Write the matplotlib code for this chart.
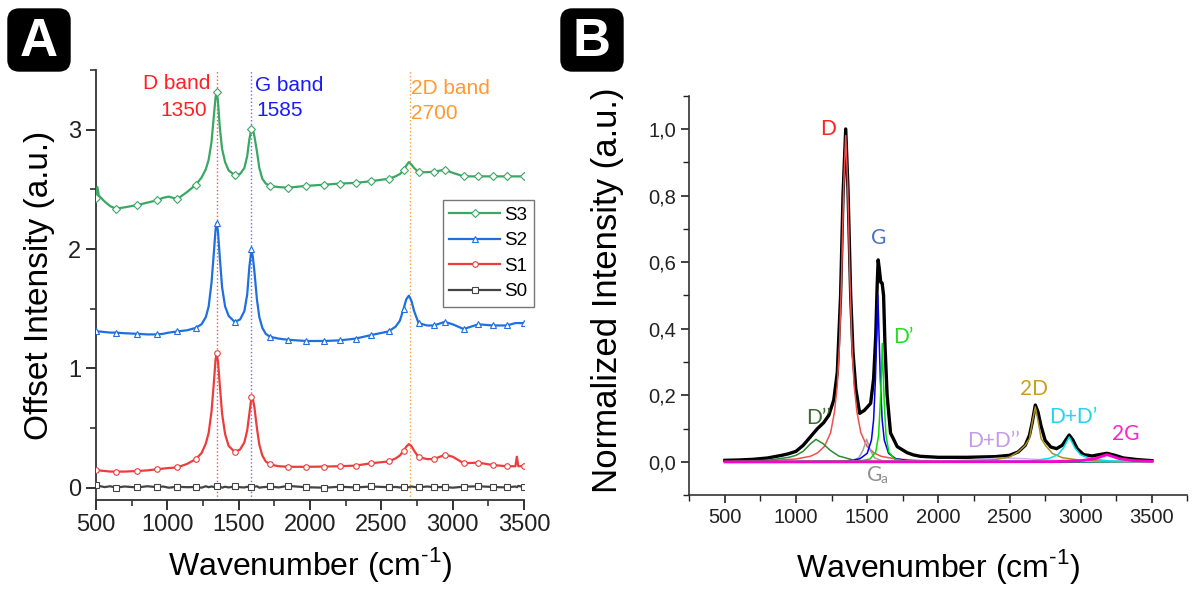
import numpy as np
import matplotlib
matplotlib.use("Agg")
import matplotlib.pyplot as plt
from matplotlib.patches import FancyBboxPatch
from matplotlib.ticker import MultipleLocator, FuncFormatter

plt.rcParams['font.family'] = ['Liberation Sans', 'DejaVu Sans']

# ---- panel A : raman spectra, offset ----
WN_A = [500, 510, 520, 560, 600, 640, 700, 790, 860, 930, 970, 1010, 1070, 1140, 1200,
        1240, 1270, 1290, 1310, 1325, 1338, 1346, 1355, 1368, 1384, 1405, 1430, 1472, 1510,
        1540, 1560, 1575, 1590, 1600, 1610, 1628, 1645, 1666, 1690, 1720, 1780, 1846, 1970,
        2100, 2210, 2320, 2430, 2551, 2600, 2630, 2656, 2675, 2693, 2710, 2730, 2761, 2820,
        2869, 2944, 3000, 3077, 3180, 3280, 3380, 3440, 3450, 3460, 3500]

S3 = [2.43, 2.52, 2.45, 2.40, 2.36, 2.34, 2.35, 2.37, 2.39, 2.41, 2.43, 2.44, 2.42, 2.48, 2.54,
      2.60, 2.67, 2.75, 2.90, 3.10, 3.27, 3.32, 3.24, 3.02, 2.84, 2.73, 2.66, 2.62, 2.63,
      2.68, 2.78, 2.92, 3.01, 3.00, 2.95, 2.82, 2.68, 2.59, 2.55, 2.53, 2.52, 2.515, 2.53,
      2.54, 2.55, 2.555, 2.57, 2.59, 2.61, 2.63, 2.66, 2.70, 2.73, 2.71, 2.68, 2.645, 2.645,
      2.65, 2.665, 2.64, 2.61, 2.61, 2.61, 2.61, 2.61, 2.61, 2.61, 2.61]
S2 = [1.31, 1.31, 1.31, 1.305, 1.30, 1.30, 1.295, 1.29, 1.285, 1.285, 1.29, 1.30, 1.31, 1.32, 1.34,
      1.37, 1.43, 1.52, 1.72, 1.95, 2.16, 2.22, 2.15, 1.93, 1.68, 1.52, 1.44, 1.39, 1.41,
      1.48, 1.62, 1.85, 2.00, 1.93, 1.82, 1.58, 1.43, 1.34, 1.29, 1.265, 1.25, 1.24, 1.23,
      1.23, 1.235, 1.25, 1.28, 1.31, 1.35, 1.40, 1.50, 1.58, 1.61, 1.57, 1.48, 1.38, 1.36,
      1.36, 1.39, 1.37, 1.33, 1.37, 1.36, 1.36, 1.38, 1.38, 1.38, 1.38]
S1 = [0.15, 0.15, 0.145, 0.14, 0.135, 0.135, 0.135, 0.14, 0.145, 0.155, 0.16, 0.165, 0.17, 0.20, 0.24,
      0.29, 0.37, 0.46, 0.64, 0.86, 1.07, 1.13, 1.06, 0.86, 0.62, 0.45, 0.35, 0.30, 0.32,
      0.38, 0.48, 0.62, 0.76, 0.74, 0.68, 0.50, 0.36, 0.27, 0.22, 0.195, 0.18, 0.175, 0.175,
      0.177, 0.18, 0.185, 0.205, 0.22, 0.245, 0.27, 0.31, 0.345, 0.365, 0.35, 0.31, 0.255, 0.24,
      0.24, 0.275, 0.26, 0.205, 0.21, 0.19, 0.18, 0.18, 0.26, 0.18, 0.18]
S0 = [0.02, 0.01, 0.015, 0.005, 0.012, 0.0, 0.01, 0.002, 0.012, 0.004, 0.01, 0.0, 0.008, 0.004, 0.006,
      0.0, 0.012, 0.004, 0.01, 0.006, 0.014, 0.015, 0.003, 0.01, 0.0, 0.008, 0.002, 0.01, 0.004,
      0.002, 0.008, 0.0, 0.006, 0.002, 0.008, 0.012, 0.0, 0.004, 0.006, 0.01, 0.002, 0.015, 0.004,
      0.0, 0.008, 0.002, 0.01, 0.004, 0.006, 0.002, 0.008, 0.0, 0.004, 0.01, 0.006, 0.002, 0.01,
      0.004, 0.006, 0.0, 0.008, 0.012, 0.006, 0.002, 0.01, 0.004, 0.015, 0.005]
MARK_WN = [500, 640, 790, 930, 1070, 1200, 1346, 1472, 1590, 1720, 1846, 1970, 2100, 2210,
           2320, 2430, 2551, 2656, 2761, 2869, 2944, 3077, 3180, 3280, 3380, 3500]

SERIES_A = ["S3", "S2", "S1", "S0"]
BANDS = [1350, 1585, 2700]

# ---- panel B : fitted spectrum ----
TOT_X = [500, 600, 700, 800, 900, 950, 1000, 1050, 1100, 1150, 1194, 1230, 1265, 1290, 1313,
         1330, 1349, 1365, 1384, 1400, 1420, 1447, 1480, 1524, 1545, 1560, 1570, 1577, 1585,
         1595, 1605, 1615, 1625, 1640, 1664, 1711, 1780, 1826, 1874, 2000, 2200, 2400, 2500,
         2560, 2610, 2640, 2660, 2681, 2700, 2720, 2750, 2790, 2830, 2870, 2895, 2919, 2945,
         2975, 3020, 3080, 3130, 3184, 3240, 3300, 3400, 3500]
TOT_Y = [0.005, 0.006, 0.008, 0.012, 0.02, 0.025, 0.032, 0.05, 0.075, 0.1, 0.118, 0.14, 0.186, 0.27, 0.5,
         0.8, 1.0, 0.82, 0.5, 0.33, 0.22, 0.146, 0.155, 0.176, 0.25, 0.38, 0.53, 0.607, 0.58,
         0.54, 0.537, 0.5, 0.35, 0.2, 0.087, 0.046, 0.028, 0.021, 0.017, 0.014, 0.014, 0.016, 0.02,
         0.03, 0.05, 0.08, 0.12, 0.171, 0.15, 0.11, 0.065, 0.045, 0.04, 0.05, 0.066, 0.081, 0.066,
         0.04, 0.022, 0.018, 0.022, 0.026, 0.02, 0.012, 0.007, 0.004]

D_X = [500, 800, 1000, 1100, 1150, 1200, 1243, 1270, 1290, 1305, 1320, 1335, 1349, 1363, 1378,
       1393, 1408, 1428, 1455, 1498, 1548, 1598, 1700, 1900, 2500, 3500]
D_Y = [0.0015, 0.0035, 0.009, 0.017, 0.027, 0.047, 0.088, 0.15, 0.23, 0.35, 0.56, 0.83, 0.98, 0.83, 0.56,
       0.35, 0.23, 0.15, 0.088, 0.047, 0.027, 0.017, 0.009, 0.0035, 0.0008, 0.0003]
D2_X = [500, 800, 950, 1000, 1050, 1100, 1140, 1190, 1240, 1300, 1400, 1500, 1700, 3500]
D2_Y = [0.001, 0.005, 0.014, 0.02, 0.032, 0.054, 0.068, 0.055, 0.035, 0.018, 0.006, 0.002, 0.0005, 0.0]
GA_X = [500, 1380, 1440, 1470, 1496, 1522, 1552, 1610, 3500]
GA_Y = [0.0, 0.003, 0.012, 0.035, 0.068, 0.035, 0.012, 0.003, 0.0]
G_X = [500, 1300, 1400, 1450, 1500, 1530, 1545, 1558, 1566, 1575, 1584, 1592, 1605, 1620, 1650,
       1700, 1800, 2000, 3500]
G_Y = [0.0005, 0.002, 0.005, 0.01, 0.026, 0.066, 0.127, 0.25, 0.37, 0.5, 0.37, 0.25, 0.127, 0.066, 0.026,
       0.01, 0.003, 0.001, 0.0]
D1_X = [500, 1450, 1520, 1560, 1580, 1592, 1600, 1606, 1612, 1620, 1632, 1652, 1692, 1760, 3500]
D1_Y = [0.0, 0.003, 0.009, 0.03, 0.08, 0.178, 0.27, 0.356, 0.27, 0.178, 0.08, 0.03, 0.009, 0.003, 0.0]
DD2_X = [500, 1800, 2100, 2300, 2450, 2600, 2750, 3000, 3500]
DD2_Y = [0.0, 0.001, 0.004, 0.008, 0.012, 0.01, 0.006, 0.002, 0.0]
TWO_D_X = [500, 2200, 2400, 2500, 2560, 2610, 2640, 2660, 2681, 2702, 2722, 2752, 2800, 2870, 3000,
           3200, 3500]
TWO_D_Y = [0.0005, 0.003, 0.007, 0.015, 0.03, 0.05, 0.07, 0.12, 0.165, 0.12, 0.07, 0.05, 0.026, 0.013, 0.005,
           0.002, 0.001]
DD1_X = [500, 2650, 2780, 2840, 2880, 2900, 2919, 2938, 2958, 2998, 3060, 3200, 3500]
DD1_Y = [0.0, 0.003, 0.011, 0.022, 0.043, 0.06, 0.075, 0.06, 0.043, 0.022, 0.011, 0.003, 0.001]
TWO_G_X = [500, 2800, 3000, 3100, 3150, 3184, 3220, 3270, 3370, 3500]
TWO_G_Y = [0.0, 0.001, 0.004, 0.01, 0.017, 0.022, 0.017, 0.01, 0.004, 0.002]

XLABEL = "Wavenumber (cm$^{\\mathregular{\u2010}\\mathregular{1}}$)"

fig = plt.figure(figsize=(11.95, 5.94), dpi=100)

# ---------------- A ----------------
axA = fig.add_axes([0.0803, 0.1589, 0.3582, 0.7229])
colsA = {"S3": "#3aa864", "S2": "#1f6fe0", "S1": "#ee3c3c", "S0": "#444444"}
mkA = {"S3": "D", "S2": "^", "S1": "o", "S0": "s"}
dataA = {"S3": S3, "S2": S2, "S1": S1, "S0": S0}
marks = [WN_A.index(w) for w in MARK_WN]
for name in SERIES_A:
    axA.plot(WN_A, dataA[name], color=colsA[name], lw=1.6, marker=mkA[name],
             markersize=4, markevery=marks, mfc="white", mec=colsA[name], mew=0.8,
             label=name, zorder=3)

band_cols = ["#ff4d4d", "#6a6aff", "#ffa040"]
for b, c in zip(BANDS, band_cols):
    axA.axvline(b, color=c, ls=":", lw=1.0, zorder=1)

axA.text(1301, 3.39, "D band", color="#ff2020", fontsize=15, ha="right", va="center")
axA.text(1276, 3.166, "1350", color="#ff2020", fontsize=15, ha="right", va="center")
axA.text(1614, 3.375, "G band", color="#1a1aff", fontsize=15, ha="left", va="center")
axA.text(1621, 3.166, "1585", color="#1a1aff", fontsize=15, ha="left", va="center")
axA.text(2710, 3.35, "2D band", color="#ff9a30", fontsize=15, ha="left", va="center")
axA.text(2710, 3.14, "2700", color="#ff9a30", fontsize=15, ha="left", va="center")

axA.set_xlim(500, 3500)
axA.set_ylim(-0.1, 3.5)
axA.xaxis.set_major_locator(MultipleLocator(500))
axA.xaxis.set_minor_locator(MultipleLocator(250))
axA.yaxis.set_major_locator(MultipleLocator(1))
axA.yaxis.set_minor_locator(MultipleLocator(0.5))
axA.tick_params(which="major", direction="out", length=7, width=1.3, labelsize=17, colors="#222222")
axA.tick_params(which="minor", direction="out", length=4, width=1.1, colors="#222222")
axA.set_xlabel(XLABEL, fontsize=23, labelpad=6)
axA.set_ylabel("Offset Intensity (a.u.)", fontsize=24)
axA.yaxis.set_label_coords(-0.096, 0.498)
for s in ["top", "right"]:
    axA.spines[s].set_visible(False)
for s in ["left", "bottom"]:
    axA.spines[s].set_linewidth(1.3)
    axA.spines[s].set_color("#333333")

leg = axA.legend(loc="upper left", bbox_to_anchor=(0.81, 0.698), borderaxespad=0,
                 fontsize=13.5, fancybox=False, edgecolor="#777777", handlelength=2.7,
                 handletextpad=0.25, labelspacing=0.45, borderpad=0.35, framealpha=1)
leg.get_frame().set_linewidth(1.0)

# ---------------- B ----------------
axB = fig.add_axes([0.5768, 0.1662, 0.4169, 0.6727])
axB.plot(TOT_X, TOT_Y, color="black", lw=2.4, zorder=2)
comps = [
    (D_X, D_Y, "#f05050"),
    (D2_X, D2_Y, "#2e8b2e"),
    (GA_X, GA_Y, "#a0a0a0"),
    (G_X, G_Y, "#0000ee"),
    (D1_X, D1_Y, "#00e000"),
    (DD2_X, DD2_Y, "#d0b0f0"),
    (TWO_D_X, TWO_D_Y, "#a89020"),
    (DD1_X, DD1_Y, "#00e0ee"),
    (TWO_G_X, TWO_G_Y, "#ff00cc"),
]
for x, y, c in comps:
    lw = 2.0 if c == "#ff00cc" else 1.1
    axB.plot(x, y, color=c, lw=lw, zorder=3)

lbl = dict(fontsize=15, family=["Lato", "DejaVu Sans"], ha="center", va="center")
axB.text(1225, 1.0, "D", color="#ff2222", **lbl)
axB.text(1578, 0.672, "G", color="#4a72c8", **lbl)
axB.text(1754, 0.376, "D\u2019", color="#22dd22", **lbl)
axB.text(1157, 0.133, "D\u2019\u2019", color="#3d6b2f", **lbl)
axB.text(1551, -0.039, "G", color="#909090", **lbl)
axB.text(1615, -0.052, "a", color="#909090", fontsize=10, family=["Lato", "DejaVu Sans"],
         ha="center", va="center")
axB.text(2670, 0.218, "2D", color="#c8a022", **lbl)
axB.text(2950, 0.136, "D+D\u2019", color="#22d4f0", **lbl)
axB.text(2389, 0.064, "D+D\u2019\u2019", color="#c39be6", **lbl)
axB.text(3317, 0.084, "2G", color="#ff22cc", **lbl)

axB.set_xlim(250, 3750)
axB.set_ylim(-0.1, 1.1)
axB.xaxis.set_major_locator(MultipleLocator(500))
axB.xaxis.set_minor_locator(MultipleLocator(250))
axB.yaxis.set_major_locator(MultipleLocator(0.2))
axB.yaxis.set_minor_locator(MultipleLocator(0.1))
axB.yaxis.set_major_formatter(FuncFormatter(lambda v, p: f"{v:.1f}".replace(".", ",")))
axB.tick_params(which="major", direction="out", length=6, width=1.2, labelsize=14.5, colors="#222222")
axB.tick_params(which="minor", direction="out", length=4, width=1.0, colors="#222222")
axB.set_xlabel(XLABEL, fontsize=23, labelpad=14)
axB.set_ylabel("Normalized Intensity (a.u.)", fontsize=25)
axB.yaxis.set_label_coords(-0.131, 0.514)
for s in ["top", "right"]:
    axB.spines[s].set_visible(False)
for s in ["left", "bottom"]:
    axB.spines[s].set_linewidth(1.2)
    axB.spines[s].set_color("#333333")

# panel letters
for letter, x0 in [("A", 8), ("B", 561)]:
    lax = fig.add_axes([x0 / 1195, 1 - 71 / 594, 62 / 1195, 62 / 594])
    lax.set_axis_off()
    lax.add_patch(FancyBboxPatch((0.0, 0.0), 1.0, 1.0, boxstyle="round,pad=0,rounding_size=0.18",
                                 transform=lax.transAxes, fc="black", ec="black", clip_on=False))
    lax.text(0.5, 0.47, letter, color="white", fontsize=38, fontweight="bold",
             ha="center", va="center", transform=lax.transAxes)

fig.savefig("out.png", dpi=100)
